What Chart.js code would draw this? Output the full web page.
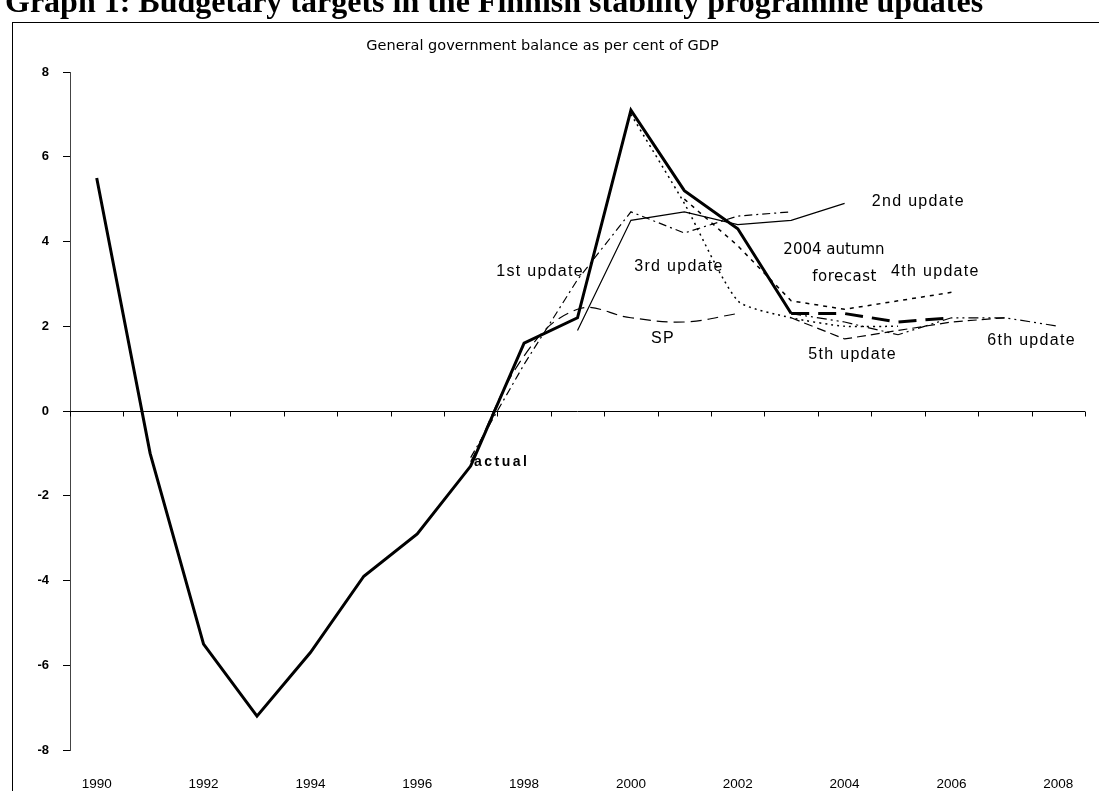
<!DOCTYPE html>
<html>
<head>
<meta charset="utf-8">
<title>Graph 1</title>
<script src="https://cdn.jsdelivr.net/npm/chart.js@4.4.1/dist/chart.umd.min.js"></script>
<style>
  html, body { margin: 0; padding: 0; background: #fff; overflow: hidden; }
  #wrap { position: relative; width: 1099px; height: 791px; }
  #head {
    position: absolute; left: 5px; top: -17px; z-index: 2;
    font: bold 32px/36px "Liberation Serif", "Times New Roman", serif;
    white-space: nowrap; color: #000;
  }
</style>
</head>
<body>
<div id="wrap">
  <div id="head">Graph 1: Budgetary targets in the Finnish stability programme updates</div>
  <canvas id="chart" width="1099" height="791"></canvas>
</div>
<script>
// categories 1990..2008
var years = ['1990', '1991', '1992', '1993', '1994', '1995', '1996', '1997', '1998', '1999',
  '2000', '2001', '2002', '2003', '2004', '2005', '2006', '2007', '2008']
var xTickLabels = ['1990', '1992', '1994', '1996', '1998', '2000', '2002', '2004', '2006', '2008']
var yTicks = [-8, -6, -4, -2, 0, 2, 4, 6, 8]

var actual = [5.5, -1.0, -5.5, -7.2, -5.7, -3.9, -2.9, -1.3, 1.6, 2.2, 7.1, 5.2, 4.3, 2.3, null, null, null, null, null]
var autumn2004 = [null, null, null, null, null, null, null, null, null, null, null, null, null, 2.3, 2.3, 2.1, 2.2, null, null]
var sp = [null, null, null, null, null, null, null, -1.2, 1.3, 2.4, 2.2, 2.1, 2.3, null, null, null, null, null, null]
var update1 = [null, null, null, null, null, null, null, -1.1, 1.1, 3.1, 4.7, 4.2, 4.6, 4.7, null, null, null, null, null]
var update2 = [null, null, null, null, null, null, null, null, null, 1.9, 4.5, 4.7, 4.4, 4.5, 4.9, null, null, null, null]
var update3 = [null, null, null, null, null, null, null, null, null, null, 7.0, 4.9, 2.6, 2.2, 2.0, 2.0, null, null, null]
var update4 = [null, null, null, null, null, null, null, null, null, null, null, 5.0, 3.9, 2.6, 2.4, 2.6, 2.8, null, null]
var update5 = [null, null, null, null, null, null, null, null, null, null, null, null, null, 2.2, 1.7, 1.9, 2.1, 2.2, null]
var update6 = [null, null, null, null, null, null, null, null, null, null, null, null, null, 2.3, 2.1, 1.8, 2.2, 2.2, 2.0]

// text labels inside the plot: [text, year index, value, font, letter spacing]
var arial = '"Liberation Sans", Arial, sans-serif'
var lineLabels = [
  ['actual', 7.58, -1.2, 'bold 14px ' + arial, '2.5px'],
  ['1st update', 8.3, 3.3, '16px ' + arial, '1.3px'],
  ['3rd update', 10.9, 3.4, '16px ' + arial, '1.3px'],
  ['2nd update', 15.38, 4.93, '16px ' + arial, '1.3px'],
  ['2004 autumn', 13.8, 3.8, '15px "DejaVu Sans", Verdana, sans-serif', '0px'],
  ['forecast', 14.0, 3.17, '15px "DejaVu Sans", Verdana, sans-serif', '0.5px'],
  ['4th update', 15.7, 3.28, '16px ' + arial, '1.3px'],
  ['SP', 10.6, 1.7, '16px ' + arial, '1.3px'],
  ['5th update', 14.15, 1.32, '16px ' + arial, '1.3px'],
  ['6th update', 17.5, 1.67, '16px ' + arial, '1.3px']
]

function series(label, data, width, dash, tension) {
  return {
    label: label,
    data: data,
    borderColor: '#000',
    backgroundColor: '#000',
    borderWidth: width,
    borderDash: dash,
    pointRadius: 0,
    pointHoverRadius: 0,
    tension: tension || 0,
    spanGaps: false,
    fill: false
  }
}

var extras = {
  id: 'extras',
  beforeDraw: function (chart) {
    var ctx = chart.ctx
    ctx.save()
    ctx.strokeStyle = '#000'
    ctx.lineWidth = 1
    ctx.strokeRect(12.5, 22.5, 1200, 1200)
    ctx.restore()
  },
  afterDatasetsDraw: function (chart) {
    var ctx = chart.ctx
    var x = chart.scales.x
    var y = chart.scales.y
    var area = chart.chartArea
    var y0 = Math.round(y.getPixelForValue(0)) + 0.5
    ctx.save()
    ctx.strokeStyle = '#000'
    ctx.lineWidth = 1
    ctx.beginPath()
    ctx.moveTo(area.left, y0)
    ctx.lineTo(area.right, y0)
    for (var i = 0; i <= years.length; i++) {
      var px = Math.round(x.getPixelForValue(i - 0.5)) + 0.5
      ctx.moveTo(px, y0)
      ctx.lineTo(px, y0 + 5)
    }
    ctx.stroke()

    ctx.fillStyle = '#000'
    ctx.textAlign = 'center'
    ctx.textBaseline = 'middle'
    for (var j = 0; j < lineLabels.length; j++) {
      var l = lineLabels[j]
      ctx.font = l[3]
      ctx.letterSpacing = l[4]
      ctx.fillText(l[0], x.getPixelForValue(l[1]), y.getPixelForValue(l[2]))
    }
    ctx.restore()
  }
}

new Chart(document.getElementById('chart'), {
  type: 'line',
  data: {
    labels: years,
    datasets: [
      series('actual', actual, 3, []),
      series('2004 autumn forecast', autumn2004, 3, [18, 9]),
      series('SP', sp, 1.2, [11, 6], 0.4),
      series('1st update', update1, 1.2, [8, 4, 2, 4]),
      series('2nd update', update2, 1.2, []),
      series('3rd update', update3, 1.5, [2, 4], 0.2),
      series('4th update', update4, 1.5, [4, 5]),
      series('5th update', update5, 1.2, [9, 5]),
      series('6th update', update6, 1.2, [10, 4, 2, 4, 2, 4])
    ]
  },
  options: {
    responsive: false,
    animation: false,
    events: [],
    layout: { padding: { left: 0, right: 14, top: 38, bottom: 0 } },
    plugins: {
      legend: { display: false },
      tooltip: { enabled: false },
      title: {
        display: true,
        text: 'General government balance as per cent of GDP',
        color: '#000',
        font: { family: '"DejaVu Sans", Verdana, sans-serif', size: 14.5, weight: 'normal', lineHeight: 1.2 },
        padding: { top: 0, bottom: 16.6 }
      }
    },
    scales: {
      x: {
        type: 'category',
        offset: true,
        grid: { display: false },
        border: { display: false },
        ticks: {
          autoSkip: false,
          maxRotation: 0,
          padding: 18,
          color: '#000',
          font: { family: arial, size: 13.5 },
          callback: function (value) {
            var lab = this.getLabelForValue(value)
            return xTickLabels.indexOf(lab) >= 0 ? lab : ''
          }
        },
        afterFit: function (scale) { scale.height = 41 }
      },
      y: {
        min: -8,
        max: 8,
        afterBuildTicks: function (scale) {
          scale.ticks = yTicks.map(function (v) { return { value: v } })
        },
        grid: { drawOnChartArea: false, tickLength: 7, color: '#000' },
        border: { display: true, color: '#444', width: 1 },
        ticks: {
          padding: 14,
          color: '#000',
          font: { family: arial, size: 13, weight: 'bold' }
        },
        afterFit: function (scale) { scale.width = 70 }
      }
    }
  },
  plugins: [extras]
})
</script>
</body>
</html>
